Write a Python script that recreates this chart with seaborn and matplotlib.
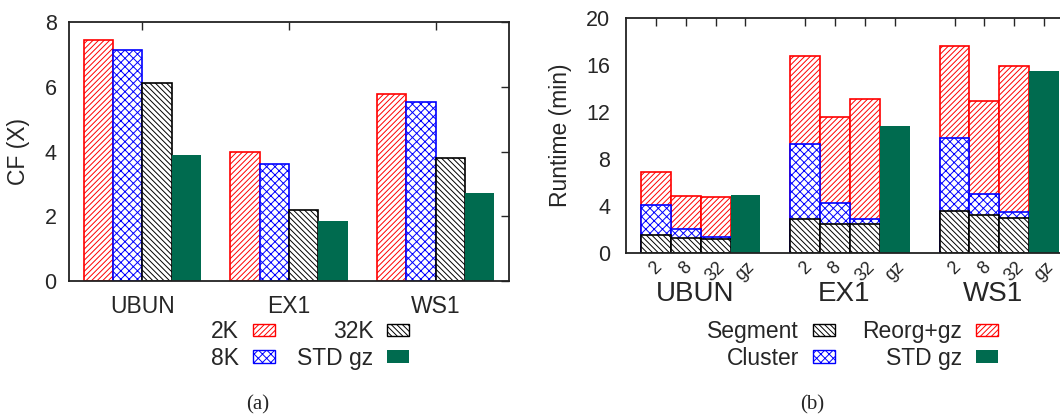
"""
Compression factor and runtime of the chunked gz scheme vs standard gz.
"""

import numpy as np
import pandas as pd
import seaborn as sns
import matplotlib.pyplot as plt
import matplotlib.transforms as mtransforms
from matplotlib.patches import Patch

sns.set_style("white")
plt.rcParams["font.family"] = ["Liberation Sans", "DejaVu Sans"]
plt.rcParams["hatch.linewidth"] = 0.7

# panel (a): compression factor
datasets = ["UBUN", "EX1", "WS1"]
chunk_labels = ["2K", "8K", "32K", "STD gz"]
cf_2k = [7.45, 4.0, 5.78]
cf_8k = [7.15, 3.62, 5.52]
cf_32k = [6.12, 2.2, 3.8]
cf_std = [3.9, 1.85, 2.72]

# panel (b): runtime (min), stacked parts for chunk sizes 2, 8, 32
chunk_sizes = ["2", "8", "32"]
segment = [[1.53, 1.28, 1.19], [2.9, 2.47, 2.45], [3.55, 3.24, 2.96]]
cluster = [[2.56, 0.74, 0.17], [6.37, 1.79, 0.45], [6.23, 1.82, 0.54]]
reorg = [[2.79, 2.87, 3.44], [7.5, 7.34, 10.2], [7.82, 7.87, 12.47]]
std_gz = [4.94, 10.83, 15.5]

RED = "#ff0000"
BLUE = "#0000ff"
GREEN = "#006b4f"
STYLES = [
    dict(facecolor="white", edgecolor=RED, hatch="//////"),
    dict(facecolor="white", edgecolor=BLUE, hatch="xxxx"),
    dict(facecolor="white", edgecolor="black", hatch="\\\\\\\\\\\\"),
    dict(facecolor=GREEN, edgecolor="none", hatch=None),
]


def style_bar(bar, style):
    bar.set_facecolor(style["facecolor"])
    bar.set_edgecolor(style["edgecolor"])
    bar.set_hatch(style["hatch"])
    bar.set_linewidth(1.2)


def plot_cf(ax):
    cf_df = pd.DataFrame({
        "dataset": np.repeat(datasets, 4),
        "chunk": chunk_labels * 3,
        "cf": [v for row in zip(cf_2k, cf_8k, cf_32k, cf_std) for v in row],
    })
    sns.barplot(data=cf_df, x="dataset", y="cf", hue="chunk",
                hue_order=chunk_labels, order=datasets, errorbar=None,
                saturation=1, width=0.8, legend=False, ax=ax)
    for container, style in zip(ax.containers, STYLES):
        for bar in container:
            style_bar(bar, style)

    ax.set_xlim(-0.5, 2.5)
    ax.set_ylim(0, 8)
    ax.set_yticks([0, 2, 4, 6, 8])
    ax.set_xlabel("")
    ax.set_ylabel("CF (X)", fontsize=16.5, labelpad=10)
    ax.tick_params(axis="x", bottom=False, top=True, direction="in",
                   length=6, width=1, labelsize=16.5, pad=10)
    ax.tick_params(axis="y", left=False, right=True, direction="in",
                   length=6, width=1, labelsize=15.5, pad=9)
    for spine in ax.spines.values():
        spine.set_linewidth(1.3)
        spine.set_color("#222222")

    handles = [Patch(**s) for s in STYLES]
    ax.legend(handles, chunk_labels, ncol=2, markerfirst=False,
              frameon=False, loc="center", fontsize=16.5,
              bbox_to_anchor=(0.2925, 0.171),
              bbox_transform=ax.figure.transFigure,
              handlelength=0.95, handleheight=0.45, handletextpad=0.6,
              columnspacing=1.0, labelspacing=0.15)


def plot_runtime(ax):
    # 14 slots: 4 bars per dataset with a 1-slot gap between datasets
    slots = []
    for i, name in enumerate(datasets):
        slots += [f"{name}-{c}" for c in chunk_sizes] + [f"{name}-gz"]
        if i < len(datasets) - 1:
            slots.append(f"gap{i}")

    rows = []
    for i, name in enumerate(datasets):
        for j, c in enumerate(chunk_sizes):
            seg = segment[i][j]
            clu = seg + cluster[i][j]
            tot = clu + reorg[i][j]
            rows.append({"slot": f"{name}-{c}", "segment": seg,
                         "cluster": clu, "total": tot})
    stack_df = pd.DataFrame(rows)
    gz_df = pd.DataFrame({"slot": [f"{n}-gz" for n in datasets],
                          "runtime": std_gz})

    # layered: full height first, lower parts drawn over it
    for col, style in [("total", STYLES[0]), ("cluster", STYLES[1]),
                       ("segment", STYLES[2])]:
        sns.barplot(data=stack_df, x="slot", y=col, order=slots,
                    errorbar=None, width=1.0, saturation=1, ax=ax)
        for bar in ax.containers[-1]:
            style_bar(bar, style)
    sns.barplot(data=gz_df, x="slot", y="runtime", order=slots,
                errorbar=None, width=1.0, saturation=1, color=GREEN, ax=ax)
    for bar in ax.containers[-1]:
        style_bar(bar, STYLES[3])

    ticks = [k for k, s in enumerate(slots) if not s.startswith("gap")]
    ax.set_xticks(ticks)
    ax.set_xticklabels([slots[k].split("-")[1] for k in ticks],
                       rotation=45, ha="center", fontsize=13)
    ax.set_xlim(-1, 14)
    ax.set_ylim(0, 20)
    ax.set_yticks([0, 4, 8, 12, 16, 20])
    ax.set_xlabel("")
    ax.set_ylabel("Runtime (min)", fontsize=16.5, labelpad=10)
    ax.tick_params(axis="x", bottom=False, top=True, direction="in",
                   length=6, width=1, pad=4)
    ax.tick_params(axis="y", left=False, right=False, labelsize=15.5, pad=8)
    ax.spines["right"].set_visible(False)
    for spine in ax.spines.values():
        spine.set_linewidth(1.3)
        spine.set_color("#222222")

    trans = mtransforms.blended_transform_factory(ax.transData, ax.transAxes)
    for i, name in enumerate(datasets):
        ax.text(5 * i + 1.3, -0.173, name, transform=trans, ha="center",
                va="center", fontsize=20)

    labels = ["Segment", "Cluster", "Reorg+gz", "STD gz"]
    handles = [Patch(**STYLES[2]), Patch(**STYLES[1]),
               Patch(**STYLES[0]), Patch(**STYLES[3])]
    ax.legend(handles, labels, ncol=2, markerfirst=False,
              frameon=False, loc="center", fontsize=16.5,
              bbox_to_anchor=(0.8042, 0.171),
              bbox_transform=ax.figure.transFigure,
              handlelength=0.95, handleheight=0.45, handletextpad=0.6,
              columnspacing=1.2, labelspacing=0.15)


def main():
    fig = plt.figure(figsize=(10.6, 4.16), dpi=100)
    ax1 = fig.add_axes([0.0651, 0.3245, 0.4151, 0.6226])
    ax2 = fig.add_axes([0.5906, 0.3918, 0.4226, 0.5642])
    plot_cf(ax1)
    plot_runtime(ax2)
    fig.text(258 / 1060, 1 - 405 / 416, "(a)", ha="center", va="center",
             fontsize=15, family="Liberation Serif")
    fig.text(812 / 1060, 1 - 405 / 416, "(b)", ha="center", va="center",
             fontsize=15, family="Liberation Serif")
    fig.savefig("out.png", dpi=100)


if __name__ == "__main__":
    main()
